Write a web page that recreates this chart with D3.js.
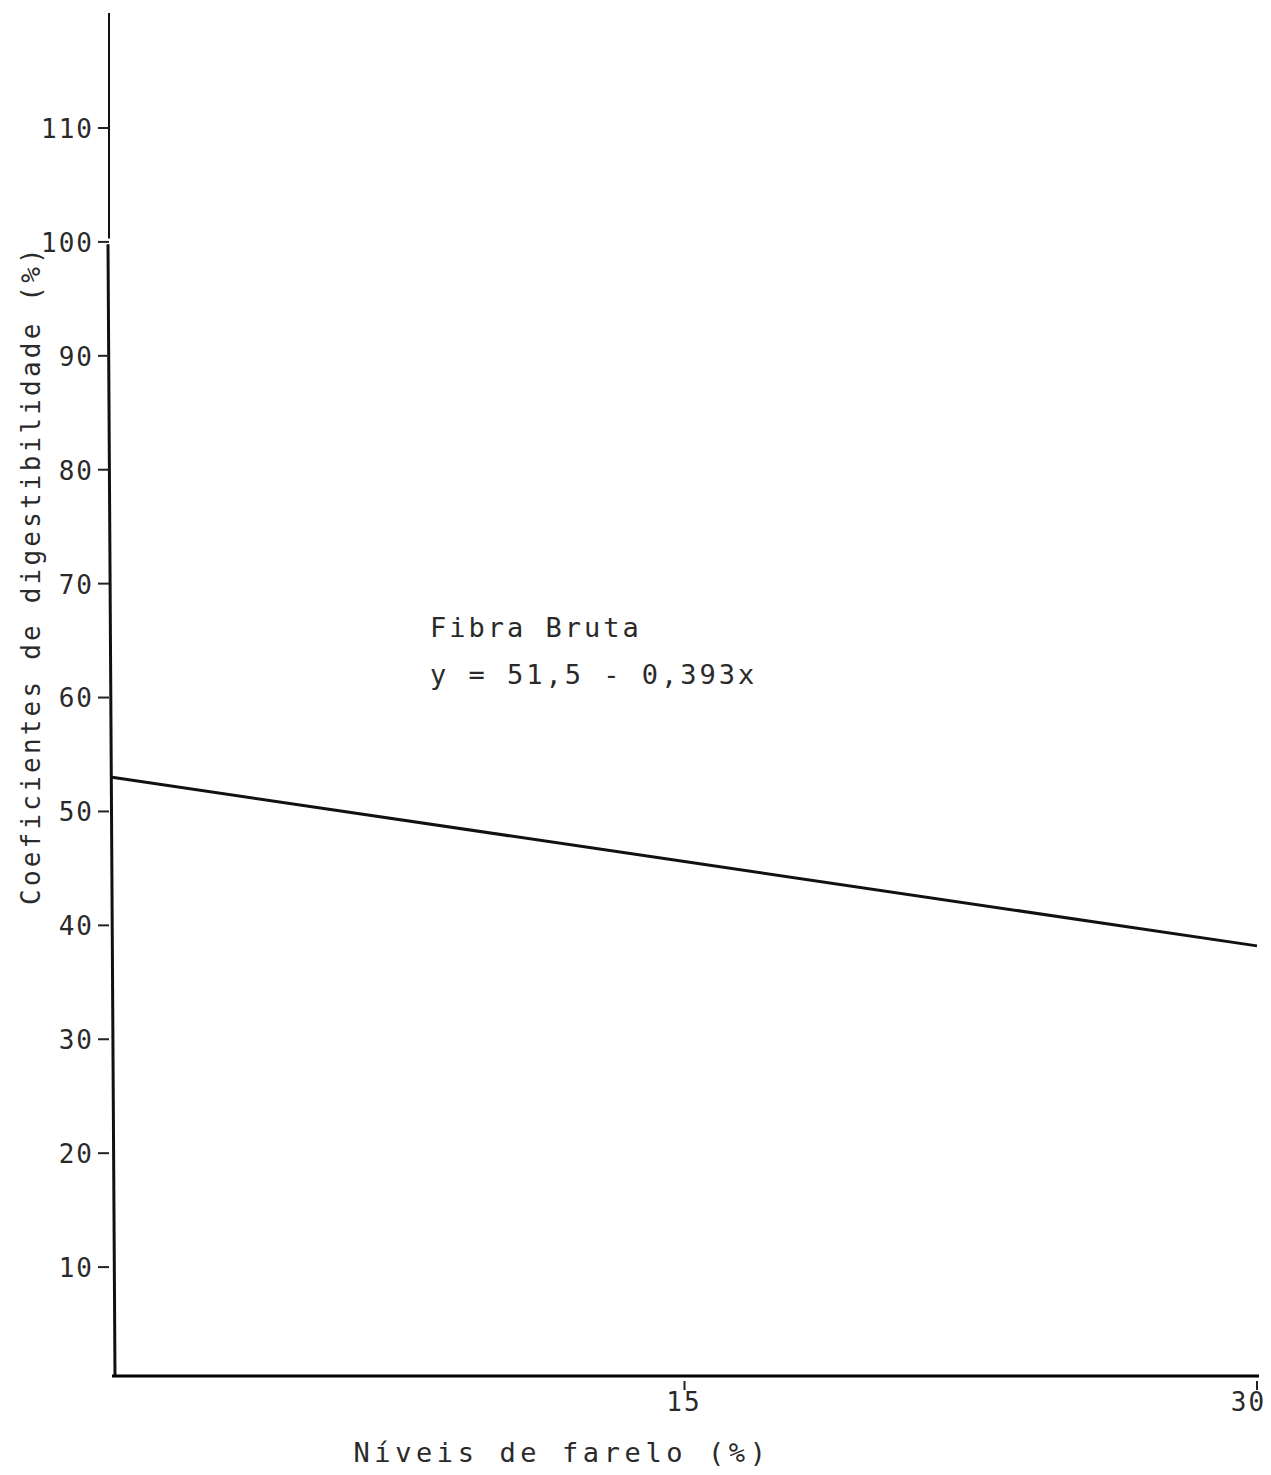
<!DOCTYPE html>
<head>
  <title>Fibra Bruta</title>
  <meta charset="utf-8">
  <script type="text/javascript" src="https://cdn.jsdelivr.net/npm/d3@7"></script>
  <style>
    body { margin: 0; background: #fff; }
    text { font-family: "DejaVu Sans Mono", monospace; fill: #2a2a2a; }
  </style>
</head>

<body>

<script>

  // data
  let levels = [0, 15, 30];
  let digestibility = [53.0, 45.6, 38.2];

  let x_ticks = [15, 30];
  let y_ticks = [10, 20, 30, 40, 50, 60, 70, 80, 90, 100, 110];

  let series_label = "Fibra Bruta";
  let equation_label = "y = 51,5 - 0,393x";
  let x_title = "Níveis de farelo (%)";
  let y_title = "Coeficientes de digestibilidade (%)";

  let svg_width = 1271;
  let svg_height = 1475;

  let padding = {
    top: 128,
    right: 14,
    bottom: 94,
    left: 112
  };

  let xScale = d3.scaleLinear()
          .domain([0, 30])
          .range([padding.left, svg_width - padding.right]);

  let yScale = d3.scaleLinear()
          .domain([0, 110])
          .range([svg_height - padding.bottom, padding.top]);

  let svg = d3.select("body").append("svg")
          .attr("width", svg_width)
          .attr("height", svg_height);

  // y axis: pasted upper strip (thin) and main part (thick)
  svg.append("line")
          .attr("x1", xScale(0) - 3)
          .attr("x2", xScale(0) - 3)
          .attr("y1", yScale(120.1))
          .attr("y2", yScale(100.3))
          .attr("stroke", "#111")
          .attr("stroke-width", 2);

  svg.append("line")
          .attr("x1", xScale(0) - 4)
          .attr("x2", xScale(0) + 3)
          .attr("y1", yScale(99.8))
          .attr("y2", yScale(0) - 4)
          .attr("stroke", "#111")
          .attr("stroke-width", 3);

  let y_axis = d3.axisLeft()
          .scale(yScale)
          .tickValues(y_ticks)
          .tickSize(0)
          .tickPadding(0)
          .tickFormat(d3.format("d"));

  let yg = svg.append("g")
          .attr("transform", "translate(" + (padding.left - 17) + ",0)")
          .call(y_axis);

  yg.select(".domain").remove();
  yg.selectAll("text")
          .attr("x", -1)
          .attr("dy", "0.36em")
          .style("font-size", "26px")
          .style("letter-spacing", "2px");

  svg.selectAll(".ytick_mark")
          .data(y_ticks)
          .enter()
          .append("line")
          .attr("class", "ytick_mark")
          .attr("x1", padding.left - 14)
          .attr("x2", padding.left - 3)
          .attr("y1", function (d) { return yScale(d) })
          .attr("y2", function (d) { return yScale(d) })
          .attr("stroke", "#222")
          .attr("stroke-width", 2);

  // x axis
  svg.append("line")
          .attr("x1", xScale(0))
          .attr("x2", xScale(30) + 2)
          .attr("y1", yScale(0) - 5)
          .attr("y2", yScale(0) - 5)
          .attr("stroke", "#000")
          .attr("stroke-width", 3);

  let x_axis = d3.axisBottom()
          .scale(xScale)
          .tickValues(x_ticks)
          .tickSize(0)
          .tickPadding(0)
          .tickFormat(d3.format("d"));

  let xg = svg.append("g")
          .attr("transform", "translate(0," + (yScale(0) + 30) + ")")
          .call(x_axis);

  xg.select(".domain").remove();
  xg.selectAll("text")
          .attr("dy", 0)
          .attr("dx", function (d) { return d === 30 ? -9 : -1 })
          .style("font-size", "26px")
          .style("letter-spacing", "2px");

  svg.selectAll(".xtick_mark")
          .data(x_ticks)
          .enter()
          .append("line")
          .attr("class", "xtick_mark")
          .attr("x1", function (d) { return xScale(d) })
          .attr("x2", function (d) { return xScale(d) })
          .attr("y1", yScale(0))
          .attr("y2", yScale(0) + 9)
          .attr("stroke", "#222")
          .attr("stroke-width", 2);

  // regression line
  let line_data = levels.map(function (d, i) { return [d, digestibility[i]] });

  svg.append("path")
          .datum(line_data)
          .attr("fill", "none")
          .attr("stroke", "#111")
          .attr("stroke-width", 3)
          .attr("d", d3.line()
                  .x(function (d) { return xScale(d[0]) })
                  .y(function (d) { return yScale(d[1]) })
          );

  // labels
  svg.append("text")
          .attr("x", 430)
          .attr("y", 637)
          .style("font-size", "27px")
          .style("letter-spacing", "3px")
          .text(series_label);

  svg.append("text")
          .attr("x", 430)
          .attr("y", 684)
          .style("font-size", "27px")
          .style("letter-spacing", "3px")
          .text(equation_label);

  svg.append("text")
          .attr("x", 562)
          .attr("y", 1462)
          .style("text-anchor", "middle")
          .style("font-size", "27px")
          .style("letter-spacing", "4.6px")
          .text(x_title);

  svg.append("text")
          .attr("transform", "rotate(-90)")
          .attr("x", -575)
          .attr("y", 40)
          .style("text-anchor", "middle")
          .style("font-size", "26px")
          .style("letter-spacing", "3.2px")
          .text(y_title);

</script>

</body>
